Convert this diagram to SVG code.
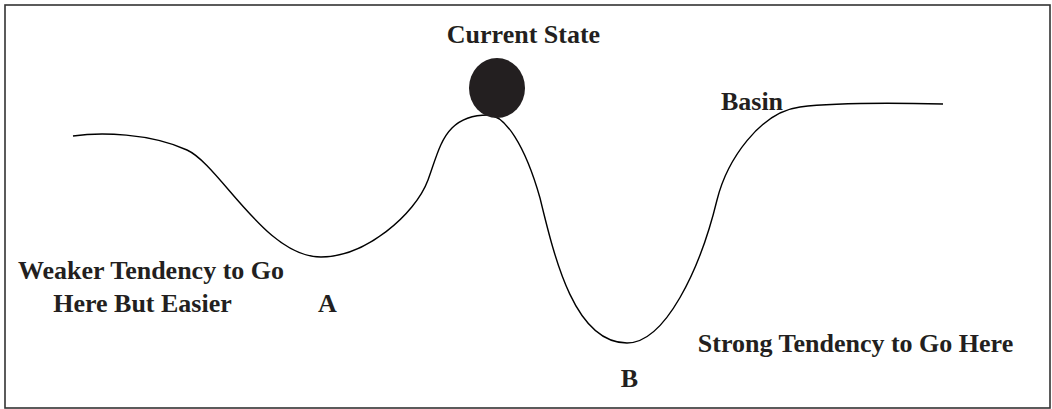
<svg xmlns="http://www.w3.org/2000/svg" width="1052" height="409" viewBox="0 0 1052 409">
<style>
.lbl{font-family:"Liberation Serif","Times New Roman",serif;font-weight:bold;font-size:26px;fill:#231f20;text-anchor:middle}
.curve{fill:none;stroke:#000;stroke-width:1.4}
</style>
<rect x="5" y="5" width="1045" height="403" fill="#fff" stroke="#333" stroke-width="1.6"/>
<g id="connectors">
<path class="curve" d="M73,136 C100,132 150,133 187,150 C220,165 265,257 321,257 C365,257 415,215 428,180 C436,158 440,140 452,128 C462,118 474,115 488,115 C505,115 525,145 540,198 C555,260 575,343 627,343 C665,343 700,270 717,200 C727,160 760,112 800,107 C840,102 900,103 943,104"/>
</g>
<g id="current-state">
<ellipse cx="497" cy="88" rx="28" ry="30" fill="#231f20"/>
<text class="lbl" x="523.5" y="43">Current State</text>
</g>
<g id="basin"><text class="lbl" x="752" y="110">Basin</text></g>
<g id="weaker">
<text class="lbl" x="151" y="279">Weaker Tendency to Go</text>
<text class="lbl" x="142.5" y="312">Here But Easier</text>
</g>
<g id="a"><text class="lbl" x="327.5" y="312">A</text></g>
<g id="strong"><text class="lbl" x="855.5" y="352">Strong Tendency to Go Here</text></g>
<g id="b"><text class="lbl" x="629.5" y="387">B</text></g>
</svg>
